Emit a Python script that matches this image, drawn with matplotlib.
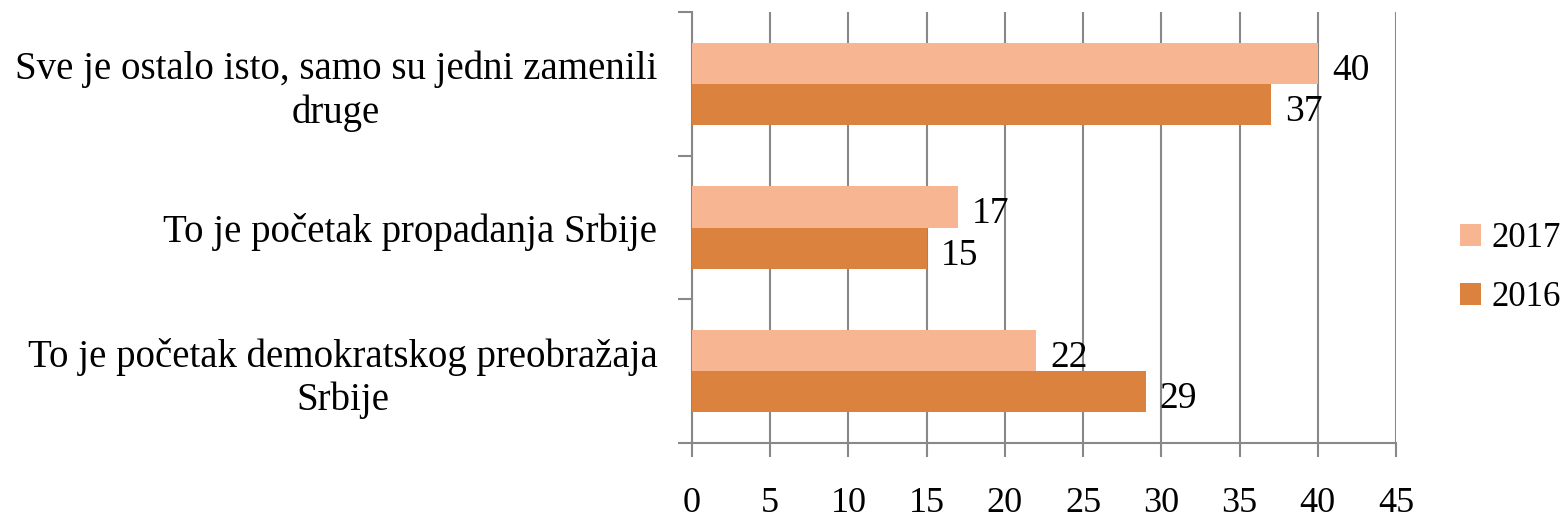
import matplotlib.pyplot as plt
import numpy as np

# podaci
categories = ["Sve je ostalo isto, samo su jedni zamenili\ndruge",
              "To je početak propadanja Srbije",
              "To je početak demokratskog preobražaja\nSrbije"]
values_2017 = [40, 17, 22]
values_2016 = [37, 15, 29]
series_names = ["2017", "2016"]
colors = ["#F8B592", "#DC823F"]

plt.rcParams['font.family'] = ['Liberation Serif', 'DejaVu Serif']

fig = plt.figure(figsize=(15.65, 5.22), dpi=100)
ax = fig.add_axes([0.4422, 0.1513, 0.4498, 0.8257])

y = np.arange(len(categories))[::-1]
h = 0.287
b1 = ax.barh(y + h / 2, values_2017, height=h, color=colors[0], label=series_names[0], zorder=3)
b2 = ax.barh(y - h / 2, values_2016, height=h, color=colors[1], label=series_names[1], zorder=3)

# oznake vrednosti pored stubica
for bars, vals in [(b1, values_2017), (b2, values_2016)]:
    for bar, v in zip(bars, vals):
        ax.text(v + 0.9, bar.get_y() + bar.get_height() / 2 - 0.05, str(v),
                va='center', ha='left', fontsize=27)

ax.set_xlim(0, 45)
ax.set_ylim(-0.5, 2.5)
ax.set_xticks(range(0, 46, 5))
ax.set_yticks([-0.5, 0.5, 1.5, 2.5], minor=False)
ax.set_yticklabels([])
ax.set_yticks(y, minor=True)
ax.set_yticklabels(categories, minor=True, fontsize=28, ha='right', multialignment='center',
                   linespacing=1.2)
ax.tick_params(axis='y', which='minor', length=0, pad=25)
ax.tick_params(axis='y', which='major', length=10, width=1.5, color='#888888')
ax.tick_params(axis='x', length=10, width=1.5, color='#888888', pad=22, labelsize=26)

ax.grid(axis='x', color='#888888', linewidth=1.5, zorder=0)
for s in ['top', 'right']:
    ax.spines[s].set_visible(False)
for s in ['left', 'bottom']:
    ax.spines[s].set_color('#888888')
    ax.spines[s].set_linewidth(1.5)

ax.legend(loc='center left', bbox_to_anchor=(1.091, 0.405), frameon=False, fontsize=25,
          handlelength=0.6, handleheight=0.6, labelspacing=0.75, handletextpad=0.3,
          borderpad=0, borderaxespad=0)

fig.savefig('out.png', dpi=100)
